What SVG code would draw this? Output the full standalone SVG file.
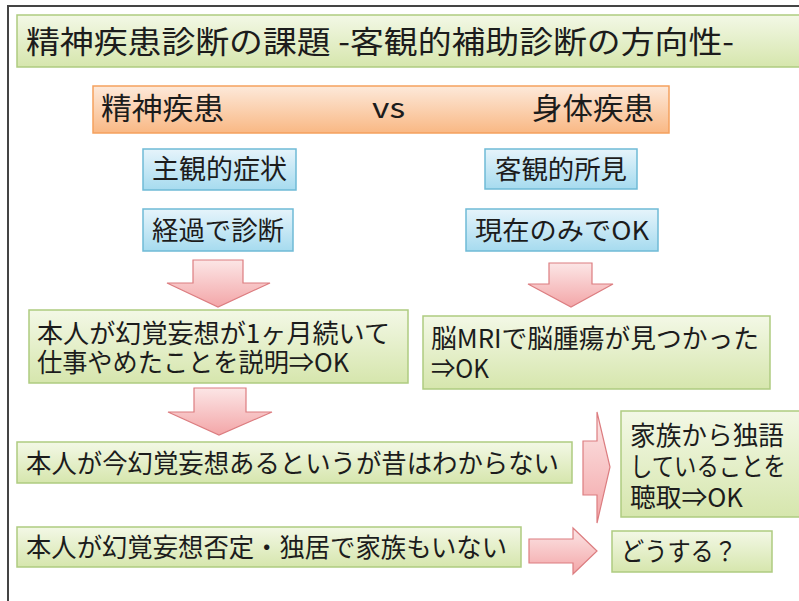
<svg xmlns="http://www.w3.org/2000/svg" width="799" height="601" viewBox="0 0 799 601">
<defs>
<linearGradient id="gGreen" x1="0" y1="0" x2="0" y2="1"><stop offset="0" stop-color="#f3f8e6"/><stop offset="1" stop-color="#d6e6ad"/></linearGradient>
<linearGradient id="gOrange" x1="0" y1="0" x2="0" y2="1"><stop offset="0" stop-color="#fde9da"/><stop offset="1" stop-color="#f9b884"/></linearGradient>
<linearGradient id="gBlue" x1="0" y1="0" x2="0" y2="1"><stop offset="0" stop-color="#e6f4fb"/><stop offset="1" stop-color="#a6dbef"/></linearGradient>
<linearGradient id="gRed" x1="0" y1="0" x2="0" y2="1"><stop offset="0" stop-color="#fce6e6"/><stop offset="1" stop-color="#f3a6a8"/></linearGradient>
</defs>
<style>
text{font-family:"Noto Sans CJK JP","Noto Sans",sans-serif;fill:#1c1c1c;}
.green{fill:url(#gGreen);stroke:#aecb80;stroke-width:1.5;}
.orange{fill:url(#gOrange);stroke:#f5a15e;stroke-width:1.5;}
.blue{fill:url(#gBlue);stroke:#6fbad6;stroke-width:1.5;}
.arrow{fill:url(#gRed);stroke:#dc7d80;stroke-width:1.2;}
.t26{font-size:26px;}
.t27{font-size:27px;}
</style>
<rect width="799" height="601" fill="#ffffff"/>
<path d="M8 601 V6 H799" fill="none" stroke="#444" stroke-width="2"/>

<g id="title">
<rect class="green" x="17" y="15" width="790" height="52"/>
<text x="26" y="53" font-size="31" textLength="708" lengthAdjust="spacingAndGlyphs">精神疾患診断の課題 -客観的補助診断の方向性-</text>
</g>

<g id="header">
<rect class="orange" x="93" y="86" width="576" height="47"/>
<text x="101" y="119" font-size="30" textLength="123" lengthAdjust="spacingAndGlyphs">精神疾患</text>
<text x="372" y="118" font-size="28" textLength="33" lengthAdjust="spacingAndGlyphs">vs</text>
<text x="532" y="119" font-size="30" textLength="122" lengthAdjust="spacingAndGlyphs">身体疾患</text>
</g>

<g id="subjective">
<rect class="blue" x="143" y="149" width="153" height="41"/>
<text class="t27" x="152" y="179" textLength="135" lengthAdjust="spacingAndGlyphs">主観的症状</text>
</g>
<g id="course">
<rect class="blue" x="143" y="209" width="150" height="42"/>
<text class="t26" x="152" y="240" textLength="132" lengthAdjust="spacingAndGlyphs">経過で診断</text>
</g>
<g id="objective">
<rect class="blue" x="485" y="149" width="152" height="40"/>
<text class="t26" x="495" y="179" textLength="132" lengthAdjust="spacingAndGlyphs">客観的所見</text>
</g>
<g id="present">
<rect class="blue" x="466" y="209" width="192" height="42"/>
<text class="t26" x="475" y="240" textLength="174" lengthAdjust="spacingAndGlyphs">現在のみでOK</text>
</g>

<g id="case1">
<rect class="green" x="29" y="310" width="379" height="73"/>
<text class="t26" x="37" y="343" textLength="353" lengthAdjust="spacingAndGlyphs">本人が幻覚妄想が1ヶ月続いて</text>
<text class="t26" x="37" y="372" textLength="312" lengthAdjust="spacingAndGlyphs">仕事やめたことを説明⇒OK</text>
</g>
<g id="mri">
<rect class="green" x="423" y="316" width="347" height="73"/>
<text class="t26" x="431" y="348" textLength="328" lengthAdjust="spacingAndGlyphs">脳MRIで脳腫瘍が見つかった</text>
<text class="t26" x="431" y="378" textLength="58" lengthAdjust="spacingAndGlyphs">⇒OK</text>
</g>
<g id="case2">
<rect class="green" x="17" y="442" width="555" height="41"/>
<text class="t26" x="26" y="473" textLength="533" lengthAdjust="spacingAndGlyphs">本人が今幻覚妄想あるというが昔はわからない</text>
</g>
<g id="family">
<rect class="green" x="621" y="411" width="190" height="106"/>
<text class="t26" x="630" y="445" textLength="154" lengthAdjust="spacingAndGlyphs">家族から独語</text>
<text class="t26" x="630" y="476" textLength="156" lengthAdjust="spacingAndGlyphs">していることを</text>
<text class="t26" x="630" y="507" textLength="113" lengthAdjust="spacingAndGlyphs">聴取⇒OK</text>
</g>
<g id="case3">
<rect class="green" x="17" y="527" width="504" height="40"/>
<text class="t26" x="26" y="557" textLength="481" lengthAdjust="spacingAndGlyphs">本人が幻覚妄想否定・独居で家族もいない</text>
</g>
<g id="what">
<rect class="green" x="612" y="531" width="160" height="41"/>
<text class="t26" x="621" y="561" textLength="116" lengthAdjust="spacingAndGlyphs">どうする？</text>
</g>

<g id="connectors">
<polygon class="arrow" points="193,260 243,260 243,283 270,283 218,307 167,283 193,283"/>
<polygon class="arrow" points="549,263 592,263 592,284 613,284 571,307 528,284 549,284"/>
<polygon class="arrow" points="194,388 246,388 246,412 272,412 219,435 168,412 194,412"/>
<polygon class="arrow" points="583,441 597,441 597,412 610,467 597,523 597,495 583,495"/>
<polygon class="arrow" points="529,539 573,539 573,528 597,551 573,574 573,563 529,563"/>
</g>
</svg>
